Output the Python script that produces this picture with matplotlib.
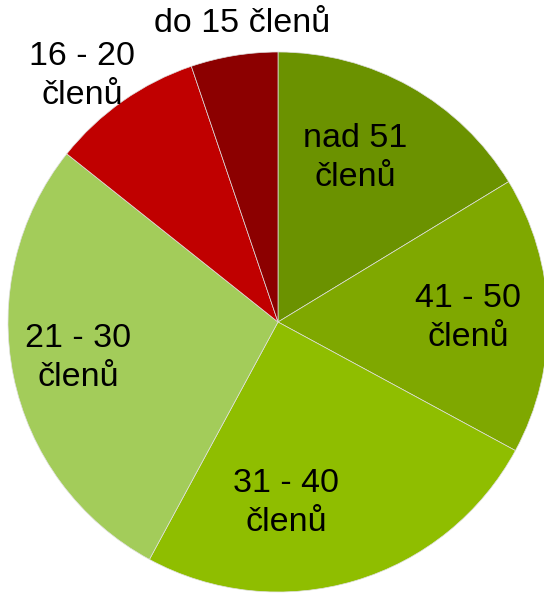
import matplotlib
matplotlib.use("Agg")
import matplotlib.pyplot as plt

categories = ["nad 51\nčlenů", "41 - 50\nčlenů", "31 - 40\nčlenů",
              "21 - 30\nčlenů", "16 - 20\nčlenů", "do 15 členů"]
values = [16.3, 16.6, 25.0, 27.8, 9.1, 5.2]
colors = ["#6b9200", "#7fa800", "#8fbe00", "#a3cc5a", "#c00000", "#8c0000"]

# label centres in pixel coordinates (x from left, y from top)
label_pos = [(355, 158), (468, 318), (286, 503), (78, 358), (82, 76), (242, 24)]

W, H = 544, 593
fig = plt.figure(figsize=(W / 100, H / 100), dpi=100)
ax = fig.add_axes([0, 0, 1, 1])

ax.pie(values, colors=colors, startangle=90, counterclock=False,
       center=(278, H - 322), radius=270, frame=True,
       wedgeprops=dict(edgecolor="#e0e0e0", linewidth=0.5))
ax.set_xlim(0, W)
ax.set_ylim(0, H)
ax.set_aspect("equal")
ax.axis("off")

for lab, (x, y) in zip(categories, label_pos):
    ax.text(x, H - y, lab, ha="center", va="center", fontsize=24.5,
            family=["Liberation Sans", "DejaVu Sans"], color="black",
            linespacing=1.32)

fig.savefig("out.png", dpi=100)
